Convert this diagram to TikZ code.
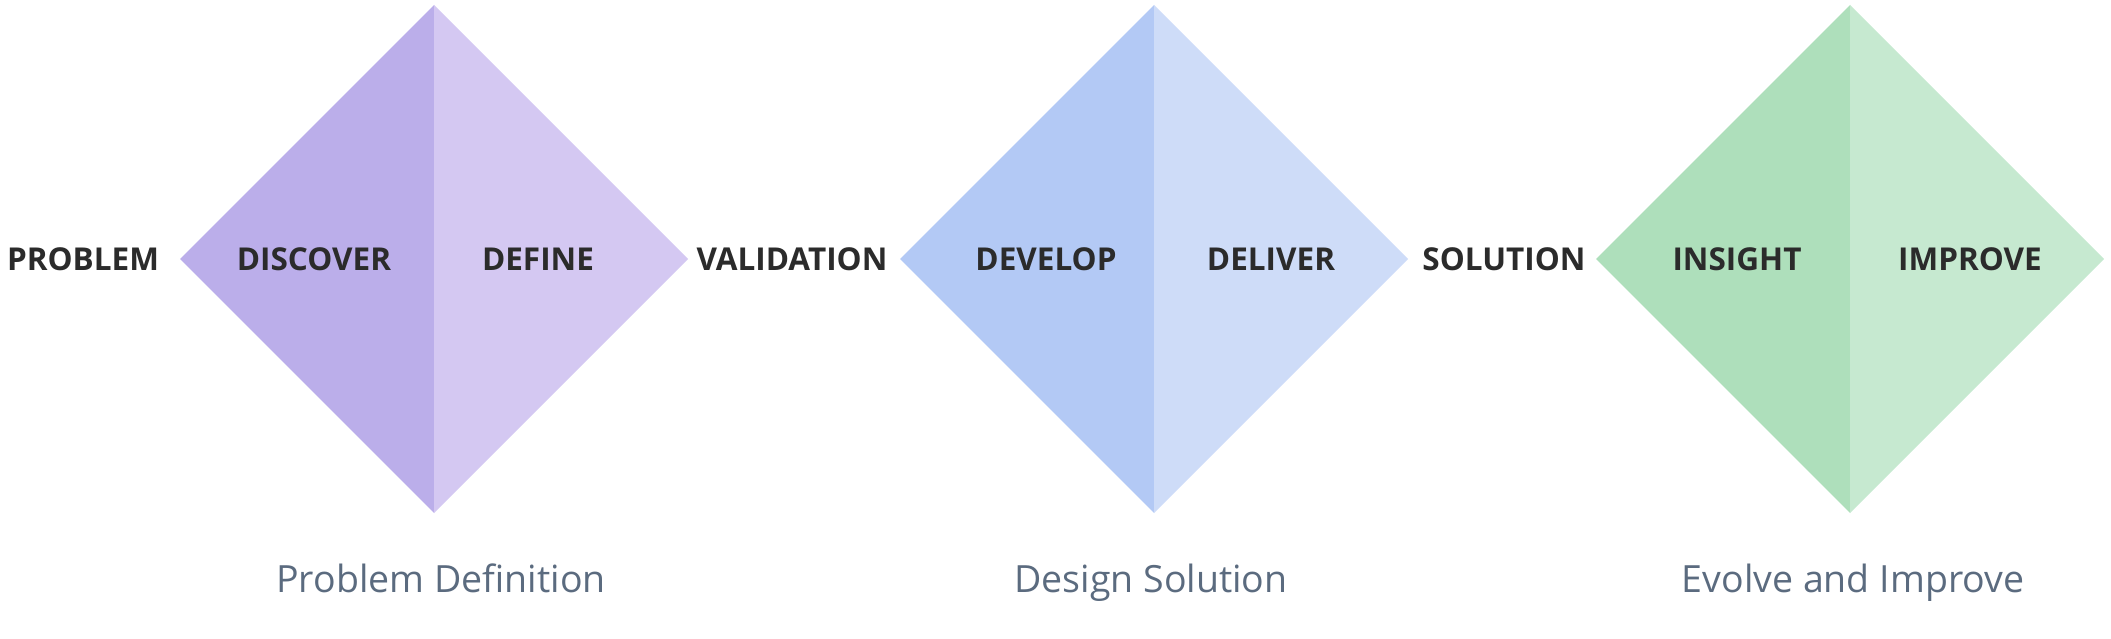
\documentclass[tikz,border=0pt]{standalone}
\usepackage{fontspec}
\setmainfont{Open Sans}
\definecolor{pA}{HTML}{BBAEEA}
\definecolor{pB}{HTML}{D4C8F2}
\definecolor{bA}{HTML}{B3C9F5}
\definecolor{bB}{HTML}{CEDCF8}
\definecolor{gA}{HTML}{AEDFBB}
\definecolor{gB}{HTML}{C6E9D0}
\definecolor{ink}{HTML}{2B2B2B}
\definecolor{sub}{HTML}{5B6B7F}
\tikzset{
  capslabel/.style={font=\bfseries\fontsize{31.5}{38}\selectfont, text=ink, inner sep=0pt, anchor=base},
  phaselabel/.style={font=\fontsize{37.5}{45}\selectfont, text=sub, inner sep=0pt, anchor=base},
}
\begin{document}
\begin{tikzpicture}[x=1pt,y=-1pt]
\useasboundingbox (0,0) rectangle (2111,639);
\foreach \c/\da/\db in {434/pA/pB,1154/bA/bB,1850/gA/gB}{
  \fill[\da] (\c,5) -- (\c-254,259) -- (\c,513) -- cycle;
  \fill[\db] (\c,5) -- (\c+254,259) -- (\c,513) -- cycle;
}
\node[capslabel] (problem) at (83,270) {PROBLEM};
\node[capslabel] (discover) at (314,270) {DISCOVER};
\node[capslabel] (define) at (538,270) {DEFINE};
\node[capslabel] (validation) at (792,270) {VALIDATION};
\node[capslabel] (develop) at (1046,270) {DEVELOP};
\node[capslabel] (deliver) at (1271,270) {DELIVER};
\node[capslabel] (solution) at (1504,270) {SOLUTION};
\node[capslabel] (insight) at (1737,270) {INSIGHT};
\node[capslabel] (improve) at (1970,270) {IMPROVE};
\node[phaselabel] (p1) at (441,592) {Problem Definition};
\node[phaselabel] (p2) at (1151,592) {Design Solution};
\node[phaselabel] (p3) at (1853,592) {Evolve and Improve};
\end{tikzpicture}
\end{document}
